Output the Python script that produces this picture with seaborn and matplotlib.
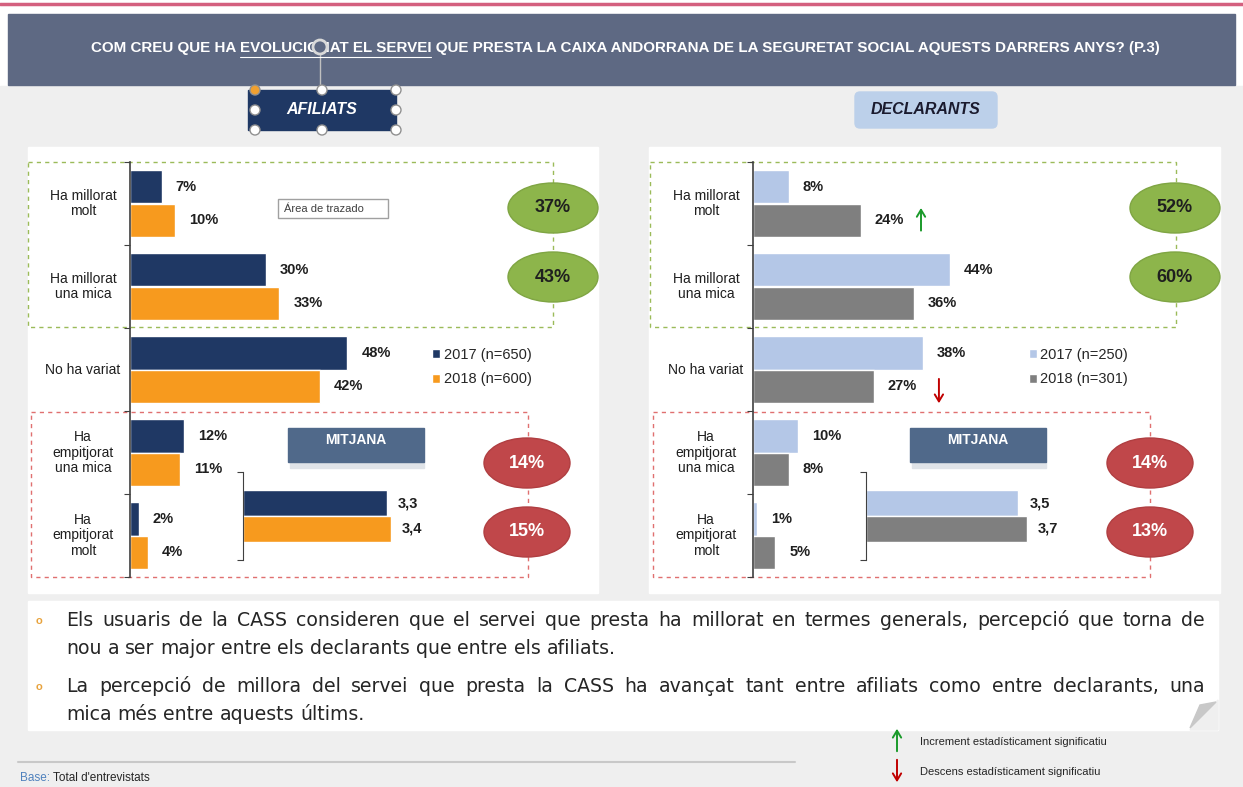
import numpy as np
import pandas as pd
import matplotlib
matplotlib.use("Agg")
import matplotlib.pyplot as plt
from matplotlib.patches import Rectangle, Ellipse, FancyBboxPatch, Circle, Polygon
import seaborn as sns

# ---- data ----
categories = ["Ha millorat\nmolt", "Ha millorat\nuna mica", "No ha variat",
              "Ha\nempitjorat\nuna mica", "Ha\nempitjorat\nmolt"]
afiliats_2017 = [7, 30, 48, 12, 2]
afiliats_2018 = [10, 33, 42, 11, 4]
declarants_2017 = [8, 44, 38, 10, 1]
declarants_2018 = [24, 36, 27, 8, 5]
legend_afiliats = ["2017 (n=650)", "2018 (n=600)"]
legend_declarants = ["2017 (n=250)", "2018 (n=301)"]
mitjana_afiliats = [3.3, 3.4]
mitjana_declarants = [3.5, 3.7]
millora_afiliats = ["37%", "43%"]
empitjora_afiliats = ["14%", "15%"]
millora_declarants = ["52%", "60%"]
empitjora_declarants = ["14%", "13%"]
canvi_declarants_2018 = ["up", "", "down", "", ""]

title = ("COM CREU QUE HA EVOLUCIONAT EL SERVEI QUE PRESTA LA CAIXA ANDORRANA "
         "DE LA SEGURETAT SOCIAL AQUESTS DARRERS ANYS? (P.3)")
bullets = [
    ["Els usuaris de la CASS consideren que el servei que presta ha millorat en termes generals, percepció que torna de",
     "nou a ser  major entre els declarants que entre els afiliats."],
    ["La percepció de millora del servei que presta la CASS ha avançat tant entre afiliats como entre declarants, una",
     "mica més entre aquests últims."],
]

sns.set_style("white")
plt.rcParams["font.family"] = ["Liberation Sans", "DejaVu Sans"]

W, H = 1243, 787
fig = plt.figure(figsize=(W / 100, H / 100), dpi=100)
fig.patch.set_facecolor("white")

# background axes in pixel units
bg = fig.add_axes([0, 0, 1, 1], zorder=-1)
bg.set_xlim(0, W)
bg.set_ylim(H, 0)
bg.axis("off")

def px_axes(x0, y0, x1, y1):
    return fig.add_axes([x0 / W, 1 - y1 / H, (x1 - x0) / W, (y1 - y0) / H])

TITLE_FS = 10.9
bg.add_patch(Rectangle((0, 86), W, H - 86, color="#efefef", zorder=0))
bg.plot([0, W], [4, 4], color="#d4607f", lw=2.5)
bg.add_patch(Rectangle((8, 14), W - 16, 71, color="#5e6983", zorder=1))
t_title = bg.text(625, 48, title, color="white", fontsize=TITLE_FS, fontweight="bold",
                  ha="center", va="center", zorder=3)

# white panels
bg.add_patch(Rectangle((28, 147), 570, 446, color="white", zorder=1))
bg.add_patch(Rectangle((649, 147), 571, 446, color="white", zorder=1))
bg.add_patch(Rectangle((28, 601), 1190, 129, color="white", zorder=1))
bg.add_patch(Polygon([[1190, 730], [1218, 700], [1218, 730]], color="#efefef", zorder=2))
bg.add_patch(Polygon([[1190, 728], [1216, 702], [1200, 705]], color="#c8c8c8", zorder=2))

# section boxes
bg.add_patch(Rectangle((248, 90), 148, 40, color="#1f3864", zorder=2))
bg.text(322, 110, "AFILIATS", color="white", fontsize=11.5, fontweight="bold",
        style="italic", ha="center", va="center", zorder=3)
bg.add_patch(FancyBboxPatch((855, 92), 142, 36, boxstyle="round,pad=0,rounding_size=5",
                            color="#bcd0ea", zorder=2))
bg.text(926, 110, "DECLARANTS", color="#1a1a2e", fontsize=11.5, fontweight="bold",
        style="italic", ha="center", va="center", zorder=3)
# selection handles (screenshot artefact)
bg.plot([320, 320], [55, 90], color="#c0c0c0", lw=1, zorder=3)
bg.add_patch(Circle((320, 47), 7, facecolor="#5e6983", edgecolor="#d9d9d9", lw=2, zorder=4))
for hx in (255, 322, 396):
    for hy in (90, 110, 130):
        if hx == 322 and hy == 110:
            continue
        fc = "#f0a030" if (hx, hy) == (255, 90) else "white"
        bg.add_patch(Circle((hx, hy), 5, facecolor=fc, edgecolor="#909090", lw=1, zorder=4))

# dashed groups
green_dash = "#9bbb59"
red_dash = "#e07070"
for x0, x1g, x1r in ((28, 553, 528), (650, 1176, 1150)):
    bg.add_patch(Rectangle((x0, 162), x1g - x0, 165, fill=False, ec=green_dash,
                           ls=(0, (3, 3)), lw=1, zorder=2))
    bg.add_patch(Rectangle((x0 + 3, 412), x1r - x0 - 3, 165, fill=False, ec=red_dash,
                           ls=(0, (3, 3)), lw=1, zorder=2))

# ellipses with totals
def ellipses(xg, xr, greens, reds):
    for yc, v in zip((208, 277), greens):
        bg.add_patch(Ellipse((xg, yc), 90, 50, facecolor="#8db54b", edgecolor="#7fa543", lw=1, zorder=3))
        bg.text(xg, yc, v, fontsize=13, fontweight="bold", color="#1f1f1f",
                ha="center", va="center", zorder=4)
    for yc, v in zip((463, 532), reds):
        bg.add_patch(Ellipse((xr, yc), 86, 50, facecolor="#c0474a", edgecolor="#b03e41", lw=1, zorder=3))
        bg.text(xr, yc, v, fontsize=13, fontweight="bold", color="white",
                ha="center", va="center", zorder=4)

ellipses(553, 527, millora_afiliats, empitjora_afiliats)
ellipses(1175, 1150, millora_declarants, empitjora_declarants)

# MITJANA labels
for mx in (288, 910):
    bg.add_patch(Rectangle((mx + 2, 462), 134, 6, color="#dfe3e8", zorder=2))
    bg.add_patch(Rectangle((mx, 428), 136, 34, color="#50698a", zorder=3))
    bg.text(mx + 68, 440, "MITJANA", color="white", fontsize=10, fontweight="bold",
            ha="center", va="center", zorder=4)

# tooltip artefact
bg.add_patch(Rectangle((278, 199), 110, 19, facecolor="white", edgecolor="#a0a0a0", lw=1, zorder=3))
bg.text(284, 208.5, "Área de trazado", fontsize=8, color="#404040", va="center", zorder=4)

ARROW_UP = dict(arrowstyle="->,head_length=0.5,head_width=0.3", color="#1a9a2a", lw=1.4)
ARROW_DOWN = dict(arrowstyle="->,head_length=0.5,head_width=0.3", color="#c00000", lw=1.4)

# ---- bar charts ----
def main_chart(x0, scale, v17, v18, colors, labels, legend_x, arrows=None):
    ax = px_axes(x0, 162, x0 + 60 * scale, 577)
    df = pd.DataFrame({
        "cat": categories * 2,
        "val": v17 + v18,
        "serie": [labels[0]] * 5 + [labels[1]] * 5,
    })
    sns.barplot(data=df, y="cat", x="val", hue="serie", orient="h", palette=colors,
                width=0.8, ax=ax, saturation=1)
    ax.set_xlim(0, 60)
    ax.set_ylim(4.5, -0.5)
    ax.patch.set_alpha(0)
    for s in ("top", "right", "bottom"):
        ax.spines[s].set_visible(False)
    ax.spines["left"].set_color("#404040")
    ax.spines["left"].set_linewidth(1.2)
    ax.set_xticks([])
    ax.set_yticks(np.arange(-0.5, 5, 1))
    ax.set_yticklabels([])
    ax.tick_params(axis="y", length=4, direction="out", color="#404040", left=True)
    ax.set_xlabel("")
    ax.set_ylabel("")
    for c in ax.containers:
        ax.bar_label(c, labels=[f"{int(b.get_width())}%" for b in c], padding=10,
                     fontsize=10.5, fontweight="bold", color="#1f1f1f")
    for i, lab in enumerate(categories):
        ax.text(-47 / scale, i, lab, ha="center", va="center", fontsize=10,
                color="#1f1f1f", linespacing=1.1)
    ax.legend(frameon=False, loc="center left", bbox_to_anchor=(legend_x / W, 1 - 367 / H),
              bbox_transform=fig.transFigure, handlelength=0.55, handleheight=0.55,
              handletextpad=0.25, labelspacing=0.75, fontsize=10.5, borderaxespad=0)
    if arrows:
        for i, (kind, v) in enumerate(zip(arrows, v18)):
            if kind == "up":
                ax.annotate("", xy=(v + 13.5, i + 0.2 - 0.18), xytext=(v + 13.5, i + 0.2 + 0.16),
                            arrowprops=ARROW_UP)
            elif kind == "down":
                ax.annotate("", xy=(v + 14.5, i + 0.2 + 0.24), xytext=(v + 14.5, i + 0.2 - 0.12),
                            arrowprops=ARROW_DOWN)
    return ax

main_chart(130, 4.53, afiliats_2017, afiliats_2018, ["#1f3864", "#f79a1e"],
           legend_afiliats, 426)
main_chart(753, 4.48, declarants_2017, declarants_2018, ["#b4c7e7", "#7f7f7f"],
           legend_declarants, 1023, arrows=canvi_declarants_2018)

def mean_chart(x0, vals, colors):
    ax = px_axes(x0, 472, x0 + 4.6 * 43.5, 560)
    df = pd.DataFrame({"cat": ["m", "m"], "val": vals, "serie": ["2017", "2018"]})
    sns.barplot(data=df, y="cat", x="val", hue="serie", orient="h", palette=colors,
                width=0.8, ax=ax, saturation=1, legend=False)
    ax.set_xlim(0, 4.6)
    ax.set_ylim(0.677, -0.677)
    ax.patch.set_alpha(0)
    for s in ("top", "right", "bottom"):
        ax.spines[s].set_visible(False)
    ax.spines["left"].set_color("#404040")
    ax.set_xticks([])
    ax.set_yticks([-0.677, 0.677])
    ax.set_yticklabels([])
    ax.tick_params(axis="y", length=4, direction="out", color="#404040", left=True)
    ax.set_xlabel("")
    ax.set_ylabel("")
    for c in ax.containers:
        ax.bar_label(c, labels=[f"{b.get_width():.1f}".replace(".", ",") for b in c],
                     padding=8, fontsize=10.5, fontweight="bold", color="#1f1f1f")
    return ax

mean_chart(243, mitjana_afiliats, ["#1f3864", "#f79a1e"])
mean_chart(866, mitjana_declarants, ["#b4c7e7", "#7f7f7f"])

# ---- bottom text, justified ----
fig.canvas.draw()
renderer = fig.canvas.get_renderer()

BODY_FONT = ["DejaVu Sans"]
BODY_FS = 13.6

def width_px(t):
    return t.get_window_extent(renderer).width

def justified_line(line, y, x0, x1, justify):
    words = line.split()
    texts = [bg.text(0, y, w, fontsize=BODY_FS, color="#262626", va="center",
                     family=BODY_FONT, zorder=4) for w in words]
    widths = [width_px(t) for t in texts]
    space = bg.text(0, y, "a a", fontsize=BODY_FS, family=BODY_FONT)
    a = bg.text(0, y, "aa", fontsize=BODY_FS, family=BODY_FONT)
    gap = width_px(space) - width_px(a)
    space.remove()
    a.remove()
    if justify and len(words) > 1:
        gap = max(gap * 0.6, (x1 - x0 - sum(widths)) / (len(words) - 1))
    x = x0
    for t, w in zip(texts, widths):
        t.set_x(x)
        x += w + gap

ys = [(620, 649), (686, 715)]
for (l1, l2), (y1, y2) in zip(bullets, ys):
    bg.text(39, y1 + 1, "o", fontsize=8, color="#e8a33d", fontweight="bold",
            ha="center", va="center", zorder=4)
    justified_line(l1, y1, 66, 1205, True)
    justified_line(l2, y2, 66, 1205, False)

# title underline for "EVOLUCIONAT EL SERVEI"
tb = t_title.get_window_extent(renderer)
pre = bg.text(0, 0, "COM CREU QUE HA ", fontsize=TITLE_FS, fontweight="bold")
und = bg.text(0, 0, "COM CREU QUE HA EVOLUCIONAT EL SERVEI", fontsize=TITLE_FS, fontweight="bold")
u0 = tb.x0 + width_px(pre)
u1 = tb.x0 + width_px(und)
pre.remove()
und.remove()
bg.plot([u0, u1], [57, 57], color="white", lw=0.8, zorder=3)

# ---- significance legend and footer ----
bg.annotate("", xy=(897, 726), xytext=(897, 754), arrowprops=ARROW_UP)
bg.text(920, 742, "Increment estadísticament significatiu", fontsize=8, color="#262626", va="center")
bg.annotate("", xy=(897, 785), xytext=(897, 757), arrowprops=ARROW_DOWN)
bg.text(920, 772, "Descens estadísticament significatiu", fontsize=8, color="#262626", va="center")

bg.plot([18, 795], [762, 762], color="#c8c8c8", lw=1.5)
tb_base = bg.text(20, 778, "Base:", fontsize=8.5, color="#4f81bd", va="center")
bg.annotate(" Total d'entrevistats", xy=(1, 0.5), xycoords=tb_base, fontsize=8.5,
            color="#262626", va="center")

fig.savefig("out.png", dpi=100)
